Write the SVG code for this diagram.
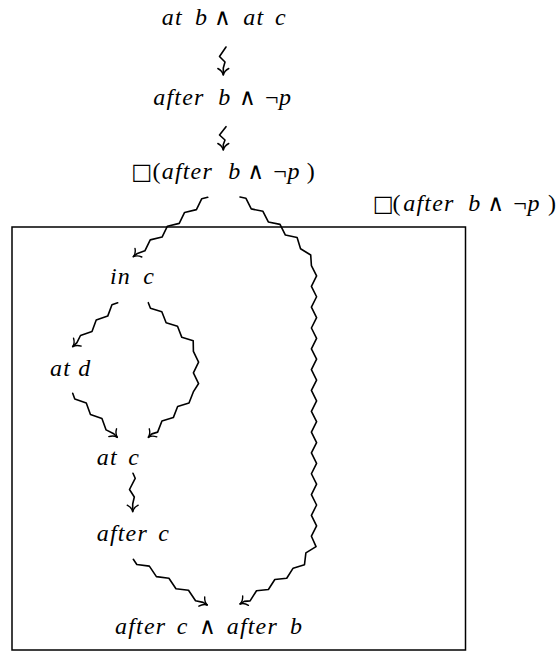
<svg xmlns="http://www.w3.org/2000/svg" width="557" height="653" viewBox="0 0 557 653">
<defs>
<style>
.t{font-family:"Liberation Serif","DejaVu Serif",serif;font-size:24px;fill:#000}
.i{font-style:italic;letter-spacing:1.2px}
.op{font-family:"DejaVu Serif",serif;font-size:23px}
.bx{font-family:"DejaVu Sans",sans-serif;font-size:22px}
.sq{fill:none;stroke:#000;stroke-width:1.6;stroke-linejoin:round;stroke-linecap:round;marker-end:url(#ah)}
.frame{fill:none;stroke:#000;stroke-width:1.5}
</style>
<marker id="ah" markerUnits="userSpaceOnUse" markerWidth="20" markerHeight="20" viewBox="-10 -10 20 20" refX="0" refY="0" orient="auto" overflow="visible">
<path d="M-6.5,-5.5 C-5,-2.5 -2.5,-0.6 0,0 C-2.5,0.6 -5,2.5 -6.5,5.5" fill="none" stroke="#000" stroke-width="1.4" stroke-linecap="round"/>
</marker>
</defs>
<rect id="frame" class="frame" x="12" y="227" width="453.5" height="423"/>
<g id="connectors">
<path class="sq" d="M226,47 L219.5,56.5 L225,62 L223.3,68 L223.3,75"/>
<path class="sq" d="M226,126.7 L219.5,135 L225,140 L223.3,144.5 L223.3,150"/>
<path class="sq" d="M207.7,197.3 L201.78,198.7 L196.43,209.63 L184.6,212.43 L179.25,223.35 L167.42,226.16 L162.07,237.08 L150.24,239.89 L144.89,250.81 L137.41,253.46 L133.3,256.7"/>
<path class="sq" d="M240,197 L245.85,198.21 L251.24,208.87 L262.94,211.3 L268.32,221.96 L280.03,224.38 L285.41,235.04 L297.11,237.46 L300.55,248.7 L310.71,254.97 L311.4,265.52 L316.6,275.93 L311.4,286.34 L316.6,296.76 L311.4,307.17 L316.6,317.58 L311.4,327.99 L316.6,338.4 L311.4,348.82 L316.6,359.23 L311.4,369.64 L316.6,380.05 L311.4,390.46 L316.6,400.88 L311.4,411.29 L316.6,421.7 L311.4,432.11 L316.6,442.52 L311.4,452.94 L316.6,463.35 L311.4,473.76 L316.6,484.17 L311.4,494.58 L316.6,505 L311.4,515.41 L316.6,525.82 L311.4,536.23 L316.04,546.64 L305.88,552.91 L304.48,564.78 L293.13,568.18 L286.72,578.25 L274.82,579.48 L268.4,589.55 L256.51,590.78 L250.09,600.85 L244.26,601.39 L240,604"/>
<path class="sq" d="M117.7,302.7 L111.95,304.69 L107.72,316.11 L96.22,320.09 L91.99,331.51 L80.49,335.49 L76.94,342.6 L72.7,346.7"/>
<path class="sq" d="M148.3,302.7 L150.45,308.25 L161.83,311.7 L166.14,322.8 L177.52,326.26 L181.82,337.35 L193.21,340.81 L193.4,351.45 L198.6,362.15 L193.4,372.85 L198.6,383.55 L193.31,391.94 L189.01,403.04 L177.63,406.49 L173.32,417.59 L161.94,421.04 L157.64,432.14 L151.95,433.87 L148.3,437.3"/>
<path class="sq" d="M72.7,393.3 L74.79,399.01 L86.28,403.03 L90.45,414.46 L101.94,418.48 L106.11,429.9 L113.75,433.77 L117.3,437.3"/>
<path class="sq" d="M133,473.3 L135.2,478.3 L129.5,489.5 L134.3,497 L132.7,504 L132.7,511.7"/>
<path class="sq" d="M133.3,559.3 L136.82,564.53 L149.35,566.15 L156.4,576.6 L168.92,578.22 L175.97,588.68 L188.5,590.3 L195.54,600.75 L203.08,602.35 L207.3,605"/>
</g>
<g id="n-atb-atc"><text class="t" y="25"><tspan class="i" x="161.7">at</tspan><tspan class="i" x="195">b</tspan><tspan class="op" x="214">∧</tspan><tspan class="i" x="243.3">at</tspan><tspan class="i" x="275">c</tspan></text></g>
<g id="n-afterb-notp"><text class="t" y="105"><tspan class="i" x="153.3">after</tspan><tspan class="i" x="218.3">b</tspan><tspan class="op" x="239">∧</tspan><tspan x="265">¬</tspan><tspan class="i" x="279">p</tspan></text></g>
<g id="n-box-afterb-notp"><text class="t" y="179"><tspan class="bx" x="131.2">□</tspan><tspan x="152.5">(</tspan><tspan class="i" x="161.7">after</tspan><tspan class="i" x="228.3">b</tspan><tspan class="op" x="247.3">∧</tspan><tspan x="273.3">¬</tspan><tspan class="i" x="287.5">p</tspan><tspan x="306.7">)</tspan></text></g>
<g id="label-box"><text class="t" y="211"><tspan class="bx" x="372.8">□</tspan><tspan x="392.5">(</tspan><tspan class="i" x="403.3">after</tspan><tspan class="i" x="468.3">b</tspan><tspan class="op" x="487.3">∧</tspan><tspan x="513.3">¬</tspan><tspan class="i" x="527.5">p</tspan><tspan x="548">)</tspan></text></g>
<g id="n-inc"><text class="t" y="284"><tspan class="i" x="110">in</tspan><tspan class="i" x="143.3">c</tspan></text></g>
<g id="n-atd"><text class="t" y="376"><tspan class="i" x="50">at</tspan><tspan class="i" x="78.3">d</tspan></text></g>
<g id="n-atc"><text class="t" y="465"><tspan class="i" x="96.7">at</tspan><tspan class="i" x="128.3">c</tspan></text></g>
<g id="n-afterc"><text class="t" y="541"><tspan class="i" x="96.7">after</tspan><tspan class="i" x="158.3">c</tspan></text></g>
<g id="n-afterc-afterb"><text class="t" y="634"><tspan class="i" x="115">after</tspan><tspan class="i" x="176.7">c</tspan><tspan class="op" x="199">∧</tspan><tspan class="i" x="226.7">after</tspan><tspan class="i" x="290">b</tspan></text></g>
</svg>
